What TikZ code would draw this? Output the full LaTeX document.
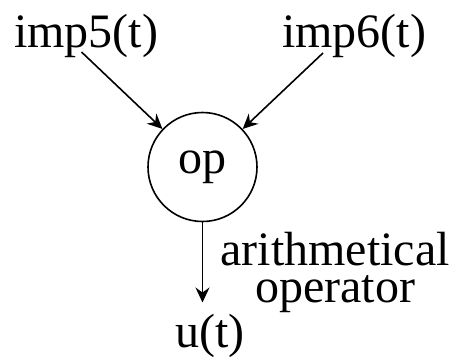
\documentclass[tikz,border=0pt]{standalone}
\usepackage{fontspec}
\setmainfont{Liberation Serif}
\usetikzlibrary{arrows.meta,calc}
\tikzset{
  txt/.style={inner sep=0pt,font=\fontsize{48}{37}\selectfont},
  opnode/.style={draw,circle,line width=1.6pt,minimum size=109pt,inner sep=0pt,font=\fontsize{48}{37}\selectfont},
  arr/.style={line width=1.6pt,-{Stealth[length=15pt,width=14pt,inset=5pt]}}
}
\begin{document}
\begin{tikzpicture}[x=1pt,y=-1pt]
\useasboundingbox (0,0) rectangle (457,356);
\node[txt,anchor=base] (imp5) at (86,47) {imp5(t)};
\node[txt,anchor=base] (imp6) at (354,47) {imp6(t)};
\node[opnode] (op) at (202.5,167) {op};
\node[txt,anchor=base] (u) at (210,347) {u(t)};
\node[txt,align=center] (lab) at (335,272.5) {arithmetical\\operator};
\draw[arr] ($(imp5.base)+(-4.5,5)$) -- (op);
\draw[arr] ($(imp6.base)+(-31,6)$) -- (op);
\draw[arr,shorten >=11pt] (op.south) -- (op.south |- u.north);
\end{tikzpicture}
\end{document}
